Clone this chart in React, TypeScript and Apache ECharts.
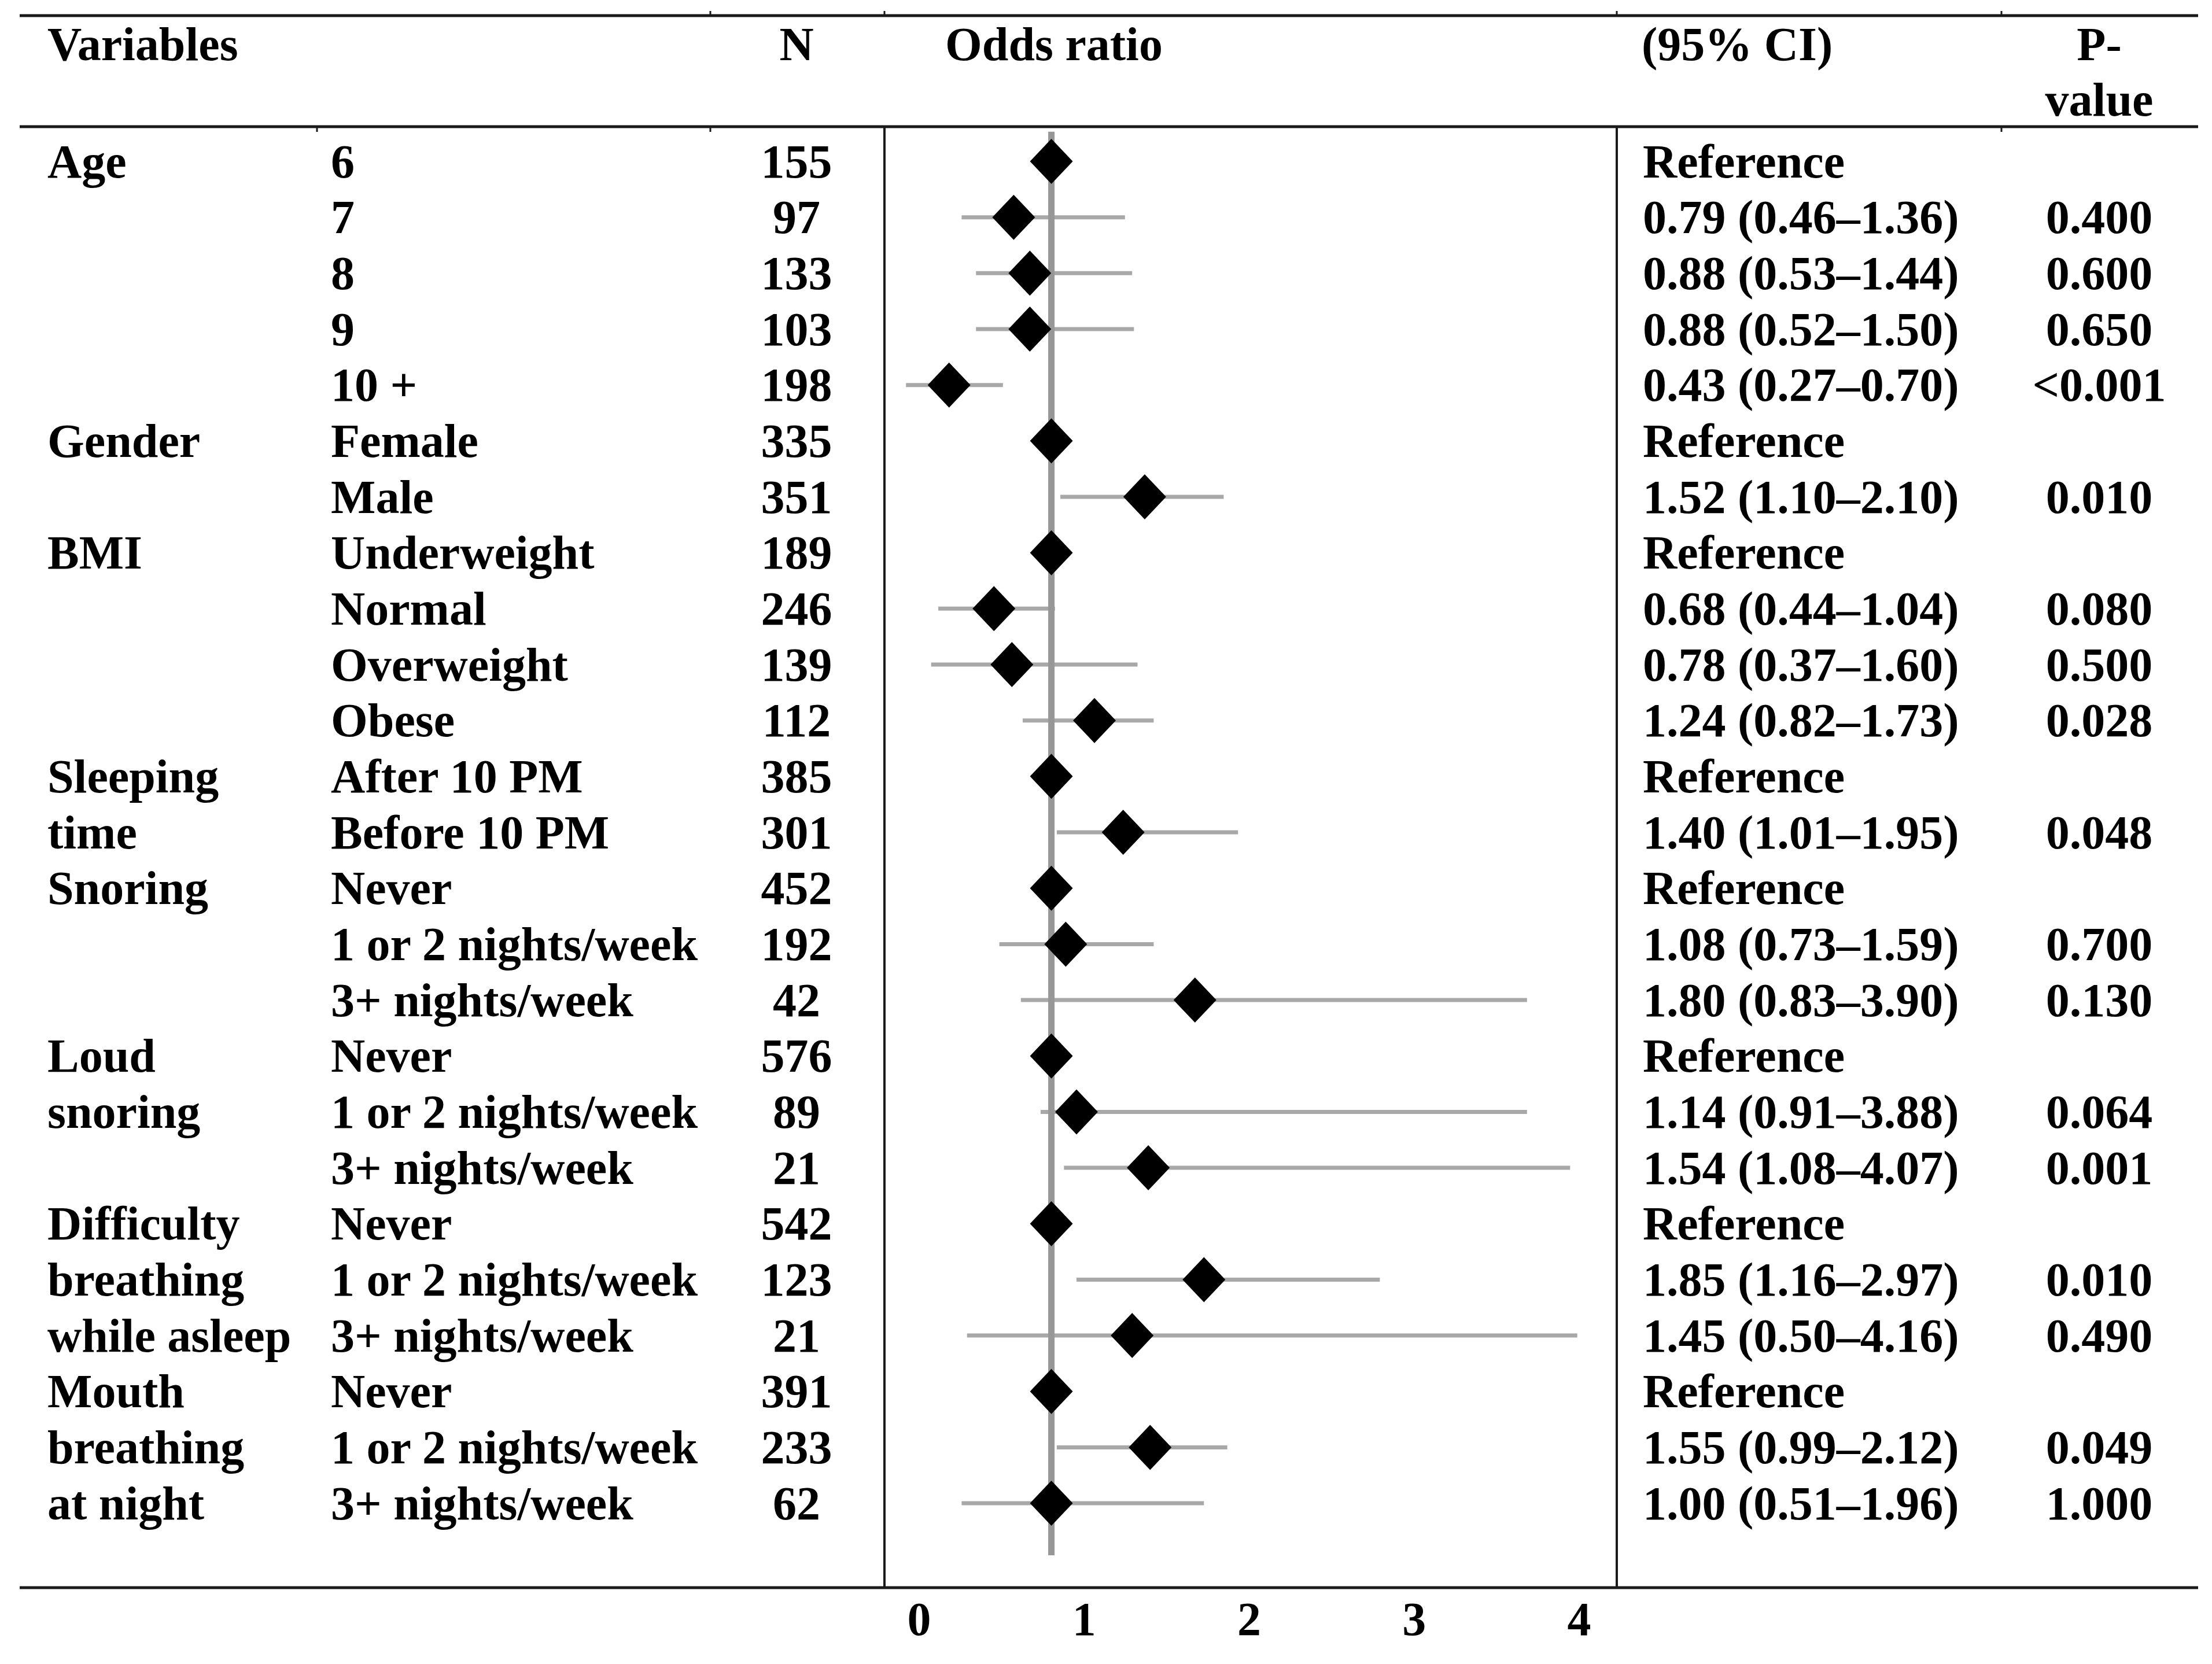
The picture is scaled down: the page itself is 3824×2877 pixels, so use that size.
import React, { useEffect, useRef } from "react";
import * as echarts from "echarts";

// ---------- data ----------
const groupLabels = [
  "Age", "", "", "", "",
  "Gender", "",
  "BMI", "", "", "",
  "Sleeping", "time",
  "Snoring", "", "",
  "Loud", "snoring", "",
  "Difficulty", "breathing", "while asleep",
  "Mouth", "breathing", "at night",
];
const categories = [
  "6", "7", "8", "9", "10 +",
  "Female", "Male",
  "Underweight", "Normal", "Overweight", "Obese",
  "After 10 PM", "Before 10 PM",
  "Never", "1 or 2 nights/week", "3+ nights/week",
  "Never", "1 or 2 nights/week", "3+ nights/week",
  "Never", "1 or 2 nights/week", "3+ nights/week",
  "Never", "1 or 2 nights/week", "3+ nights/week",
];
const sampleSizes = [155, 97, 133, 103, 198, 335, 351, 189, 246, 139, 112, 385, 301, 452, 192, 42, 576, 89, 21, 542, 123, 21, 391, 233, 62];
const oddsRatios = [1, 0.79, 0.88, 0.88, 0.43, 1, 1.52, 1, 0.68, 0.78, 1.24, 1, 1.4, 1, 1.08, 1.8, 1, 1.14, 1.54, 1, 1.85, 1.45, 1, 1.55, 1.0];
// whisker ends as drawn in the picture
const ciLower = [null, 0.5, 0.58, 0.58, 0.19, null, 1.05, null, 0.37, 0.33, 0.84, null, 1.03, null, 0.71, 0.83, null, 0.94, 1.07, null, 1.14, 0.53, null, 1.03, 0.5];
const ciUpper = [null, 1.41, 1.45, 1.46, 0.73, null, 1.96, null, 1.02, 1.48, 1.57, null, 2.04, null, 1.57, 3.65, null, 3.65, 3.89, null, 2.83, 3.93, null, 1.98, 1.85];
const ciTexts = [
  "Reference", "0.79 (0.46–1.36)", "0.88 (0.53–1.44)", "0.88 (0.52–1.50)", "0.43 (0.27–0.70)",
  "Reference", "1.52 (1.10–2.10)",
  "Reference", "0.68 (0.44–1.04)", "0.78 (0.37–1.60)", "1.24 (0.82–1.73)",
  "Reference", "1.40 (1.01–1.95)",
  "Reference", "1.08 (0.73–1.59)", "1.80 (0.83–3.90)",
  "Reference", "1.14 (0.91–3.88)", "1.54 (1.08–4.07)",
  "Reference", "1.85 (1.16–2.97)", "1.45 (0.50–4.16)",
  "Reference", "1.55 (0.99–2.12)", "1.00 (0.51–1.96)",
];
const pValues = ["", "0.400", "0.600", "0.650", "<0.001", "", "0.010", "", "0.080", "0.500", "0.028", "", "0.048", "", "0.700", "0.130", "", "0.064", "0.001", "", "0.010", "0.490", "", "0.049", "1.000"];
const tickValues = [0, 1, 2, 3, 4];
const referenceValue = 1;
const referenceSpan = [0.47, 25.93];
const headers = { variables: "Variables", n: "N", odds: "Odds ratio", ci: "(95% CI)", p1: "P-", p2: "value" };

// ---------- style / layout ----------
const FONT = "'Liberation Serif', 'Times New Roman', serif";
const FS = 82;
const ROWS = categories.length;
const PANEL_L = 1529;
const PANEL_R = 2795;
const RULE_L = 34;
const RULE_R = 3800;
const RULE_TOP = 27;
const RULE_HEAD = 219;
const RULE_BOT = 2745;
const ROW1_Y = 279;
const ROW_H = 96.67;

const labelStyle = { fontFamily: FONT, fontSize: FS, fontWeight: "bold", color: "#000" };

function rowAxis(position: string, labels: string[], align: string, margin: number) {
  return {
    type: "value",
    gridIndex: 0,
    position,
    inverse: true,
    min: 0,
    max: ROWS + 1,
    interval: 1,
    axisLine: { show: false, onZero: false },
    axisTick: { show: false },
    splitLine: { show: false },
    axisLabel: {
      ...labelStyle,
      align,
      verticalAlign: "middle",
      margin,
      showMinLabel: true,
      showMaxLabel: true,
      formatter: (v: number) => {
        const i = Math.round(v) - 1;
        return i >= 0 && i < labels.length ? labels[i] : "";
      },
    },
  };
}

function hline(x1: number, x2: number, y: number, w: number) {
  return { type: "line", silent: true, shape: { x1, y1: y, x2, y2: y }, style: { stroke: "#1a1a1a", lineWidth: w } };
}
function vline(x: number, y1: number, y2: number, w: number) {
  return { type: "line", silent: true, shape: { x1: x, y1, x2: x, y2 }, style: { stroke: "#1a1a1a", lineWidth: w } };
}
function htext(text: string, x: number, y: number, align: string) {
  return {
    type: "text",
    silent: true,
    x,
    y,
    style: { text, fill: "#000", fontFamily: FONT, fontSize: FS, fontWeight: "bold", align, verticalAlign: "middle" },
  };
}

export default function App() {
  const ref = useRef<HTMLDivElement>(null);

  useEffect(() => {
    if (!ref.current) return;
    const chart = echarts.init(ref.current, undefined, { renderer: "svg" });

    const yTop = ROW1_Y - ROW_H;
    const yHeight = ROW_H * (ROWS + 1);

    const ciData: number[][] = [];
    for (let i = 0; i < ROWS; i++) {
      if (ciLower[i] != null && ciUpper[i] != null) ciData.push([ciLower[i] as number, ciUpper[i] as number, i + 1]);
    }
    const orData = oddsRatios.map((v, i) => [v, i + 1]);

    const option: any = {
      animation: false,
      backgroundColor: "#ffffff",
      grid: [
        { left: PANEL_L, width: PANEL_R - PANEL_L, top: yTop, height: yHeight, containLabel: false, outerBoundsMode: "none" },
        { left: 1589, width: 1141, top: RULE_BOT - 40, height: 40, containLabel: false, outerBoundsMode: "none" },
      ],
      xAxis: [
        {
          type: "value",
          gridIndex: 0,
          min: 0.07,
          max: 4.15,
          show: false,
          axisLine: { onZero: false },
          splitLine: { show: false },
        },
        {
          type: "value",
          gridIndex: 1,
          position: "bottom",
          min: 0,
          max: 4,
          interval: 1,
          axisLine: { show: false, onZero: false },
          axisTick: { show: false },
          splitLine: { show: false },
          axisLabel: {
            ...labelStyle,
            margin: 54,
            verticalAlign: "middle",
            formatter: (v: number) => (tickValues.includes(v) ? String(v) : ""),
          },
        },
      ],
      yAxis: [
        rowAxis("left", groupLabels, "left", PANEL_L - 82),
        rowAxis("left", categories, "left", PANEL_L - 572),
        rowAxis("left", sampleSizes.map(String), "center", PANEL_L - 1377),
        rowAxis("right", ciTexts, "left", 2840 - PANEL_R),
        rowAxis("right", pValues, "center", 3629 - PANEL_R),
        {
          type: "value",
          gridIndex: 1,
          show: false,
          min: 0,
          max: 1,
          splitLine: { show: false },
        },
      ],
      series: [
        {
          type: "custom",
          name: "95% CI",
          xAxisIndex: 0,
          yAxisIndex: 0,
          z: 2,
          encode: { x: [0, 1], y: 2 },
          data: ciData,
          renderItem: (params: any, api: any) => {
            const p1 = api.coord([api.value(0), api.value(2)]);
            const p2 = api.coord([api.value(1), api.value(2)]);
            return {
              type: "line",
              shape: { x1: p1[0], y1: p1[1], x2: p2[0], y2: p2[1] },
              style: { stroke: "#a8a8a8", lineWidth: 7 },
            };
          },
        },
        {
          type: "line",
          name: "reference",
          xAxisIndex: 0,
          yAxisIndex: 0,
          z: 3,
          showSymbol: false,
          symbol: "none",
          lineStyle: { color: "#979797", width: 11 },
          data: [
            [referenceValue, referenceSpan[0]],
            [referenceValue, referenceSpan[1]],
          ],
        },
        {
          type: "scatter",
          name: "Odds ratio",
          xAxisIndex: 0,
          yAxisIndex: 0,
          z: 5,
          symbol: "diamond",
          symbolSize: [74, 78],
          itemStyle: { color: "#000", opacity: 1 },
          data: orData,
        },
      ],
      graphic: {
        elements: [
          hline(RULE_L, RULE_R, RULE_TOP, 5),
          hline(RULE_L, RULE_R, RULE_HEAD, 5),
          hline(RULE_L, RULE_R, RULE_BOT, 5),
          vline(PANEL_L, RULE_HEAD, RULE_BOT, 4),
          vline(PANEL_R, RULE_HEAD, RULE_BOT, 4),
          vline(1228, RULE_TOP - 8, RULE_TOP, 3),
          vline(PANEL_L, RULE_TOP - 8, RULE_TOP, 3),
          vline(PANEL_R, RULE_TOP - 8, RULE_TOP, 3),
          vline(3460, RULE_TOP - 8, RULE_TOP, 3),
          vline(548, RULE_HEAD, RULE_HEAD + 9, 3),
          vline(1228, RULE_HEAD, RULE_HEAD + 9, 3),
          vline(3460, RULE_HEAD, RULE_HEAD + 9, 3),
          htext(headers.variables, 82, 76, "left"),
          htext(headers.n, 1377, 76, "center"),
          htext(headers.odds, 1634, 76, "left"),
          htext(headers.ci, 2838, 76, "left"),
          htext(headers.p1, 3629, 76, "center"),
          htext(headers.p2, 3629, 172, "center"),
        ],
      },
    };

    chart.setOption(option);
    return () => chart.dispose();
  }, []);

  return (
    <div
      ref={ref}
      style={{ position: "fixed", left: 0, top: 0, width: "3824px", height: "2877px", background: "#fff" }}
    />
  );
}
